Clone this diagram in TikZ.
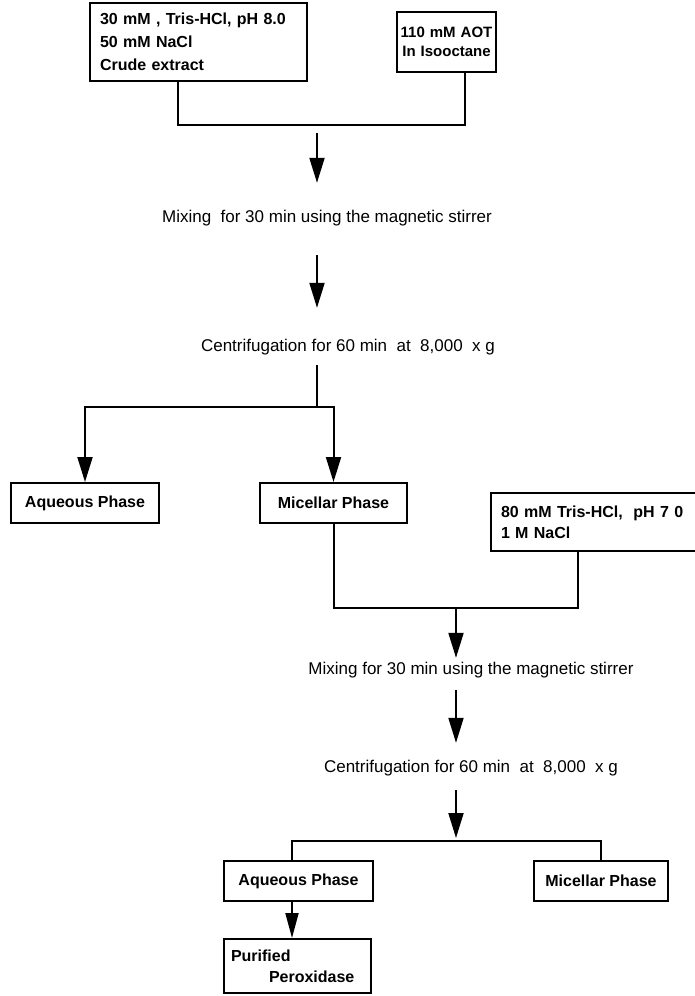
\documentclass[tikz,border=0pt]{standalone}
\usepackage{fontspec}
\setmainfont{Liberation Sans}
\usetikzlibrary{arrows.meta}
\begin{document}
\begin{tikzpicture}[x=1pt,y=-1pt,
  boxnode/.style={draw, line width=2pt, inner sep=0pt, font=\bfseries\fontsize{16}{21}\selectfont},
  lbl/.style={inner sep=0pt, text height=12pt, text depth=4pt, font=\fontsize{17}{20}\selectfont},
  conn/.style={line width=2pt},
  flow/.style={line width=2pt, -{Triangle[length=25pt,width=15pt]}}]
\useasboundingbox (0,0) rectangle (695,996);
\clip (0,0) rectangle (695,996);
% top boxes
\node[boxnode, font=\bfseries\fontsize{16}{23}\selectfont, minimum width=217pt, minimum height=78pt, text width=197pt, align=left] (b1) at (198.5,42)
  {30 mM , Tris-HCl, pH 8.0\\50 mM NaCl\\Crude extract};
\node[boxnode, font=\bfseries\fontsize{15}{19}\selectfont, minimum width=99pt, minimum height=60pt, text width=99pt, align=center] (b2) at (446.5,42)
  {110 mM AOT\\In Isooctane};
\coordinate (j1) at (178,125);
\coordinate (j2) at (465,125);
\coordinate (m1) at (317,125);
\draw[conn] (b1.south -| j1) -- (j1) -- (j2) -- (b2.south -| j2);
% first mixing and centrifugation
\node[lbl] (mix1) at (327,218) {Mixing\ \ for 30 min using the magnetic stirrer};
\node[lbl] (cen1) at (348,347) {Centrifugation for 60 min\ \ at\ \ 8,000\ \ x g};
\draw[flow, shorten <=8pt, shorten >=27pt] (m1) -- (mix1.north -| m1);
\draw[flow, shorten <=29pt, shorten >=31pt] (mix1.south -| m1) -- (cen1.north -| m1);
\coordinate (s1) at (317,407);
\draw[conn, shorten <=10pt] (cen1.south -| s1) -- (s1);
% phases
\node[boxnode, minimum width=148pt, minimum height=40pt] (aq1) at (85,503) {Aqueous Phase};
\node[boxnode, minimum width=147pt, minimum height=40pt] (mic1) at (333.5,503) {Micellar Phase};
\draw[flow] (s1) -| (aq1.north);
\draw[flow] (s1) -| (mic1.north);
% second buffer box (cut at the right edge)
\node[boxnode, minimum width=209pt, minimum height=58pt, text width=189pt, align=left] (rb) at (595.5,522)
  {80 mM Tris-HCl,\ \ pH 7 0\\1 M NaCl};
\coordinate (j3) at (578,608);
\coordinate (m2) at (456,608);
\draw[conn] (mic1.south) |- (j3) -- (j3 |- rb.south);
% second mixing and centrifugation
\node[lbl] (mix2) at (471,670) {Mixing for 30 min using the magnetic stirrer};
\node[lbl] (cen2) at (471,768) {Centrifugation for 60 min\ \ at\ \ 8,000\ \ x g};
\draw[flow, shorten >=4pt] (m2) -- (mix2.north -| m2);
\draw[flow, shorten <=12pt, shorten >=17pt] (mix2.south -| m2) -- (cen2.north -| m2);
\coordinate (s2) at (456,841);
\draw[flow, shorten <=14pt, shorten >=3pt] (cen2.south -| s2) -- (s2);
% final phases
\node[boxnode, minimum width=149pt, minimum height=40pt] (aq2) at (298.5,881) {Aqueous Phase};
\node[boxnode, minimum width=134pt, minimum height=40pt] (mic2) at (601,881) {Micellar Phase};
\coordinate (c2l) at (292,841);
\coordinate (c2r) at (601,841);
\draw[conn, line width=1.4pt] (aq2.north -| c2l) -- (c2l) -- (c2r) -- (mic2.north);
\node[boxnode, minimum width=147pt, minimum height=54pt, text width=133pt, align=left] (pur) at (297.5,966)
  {Purified\\\hspace*{38pt}Peroxidase};
\draw[flow, -{Triangle[length=25pt,width=13pt]}] (aq2.south -| c2l) -- (pur.north -| c2l);
\end{tikzpicture}
\end{document}
